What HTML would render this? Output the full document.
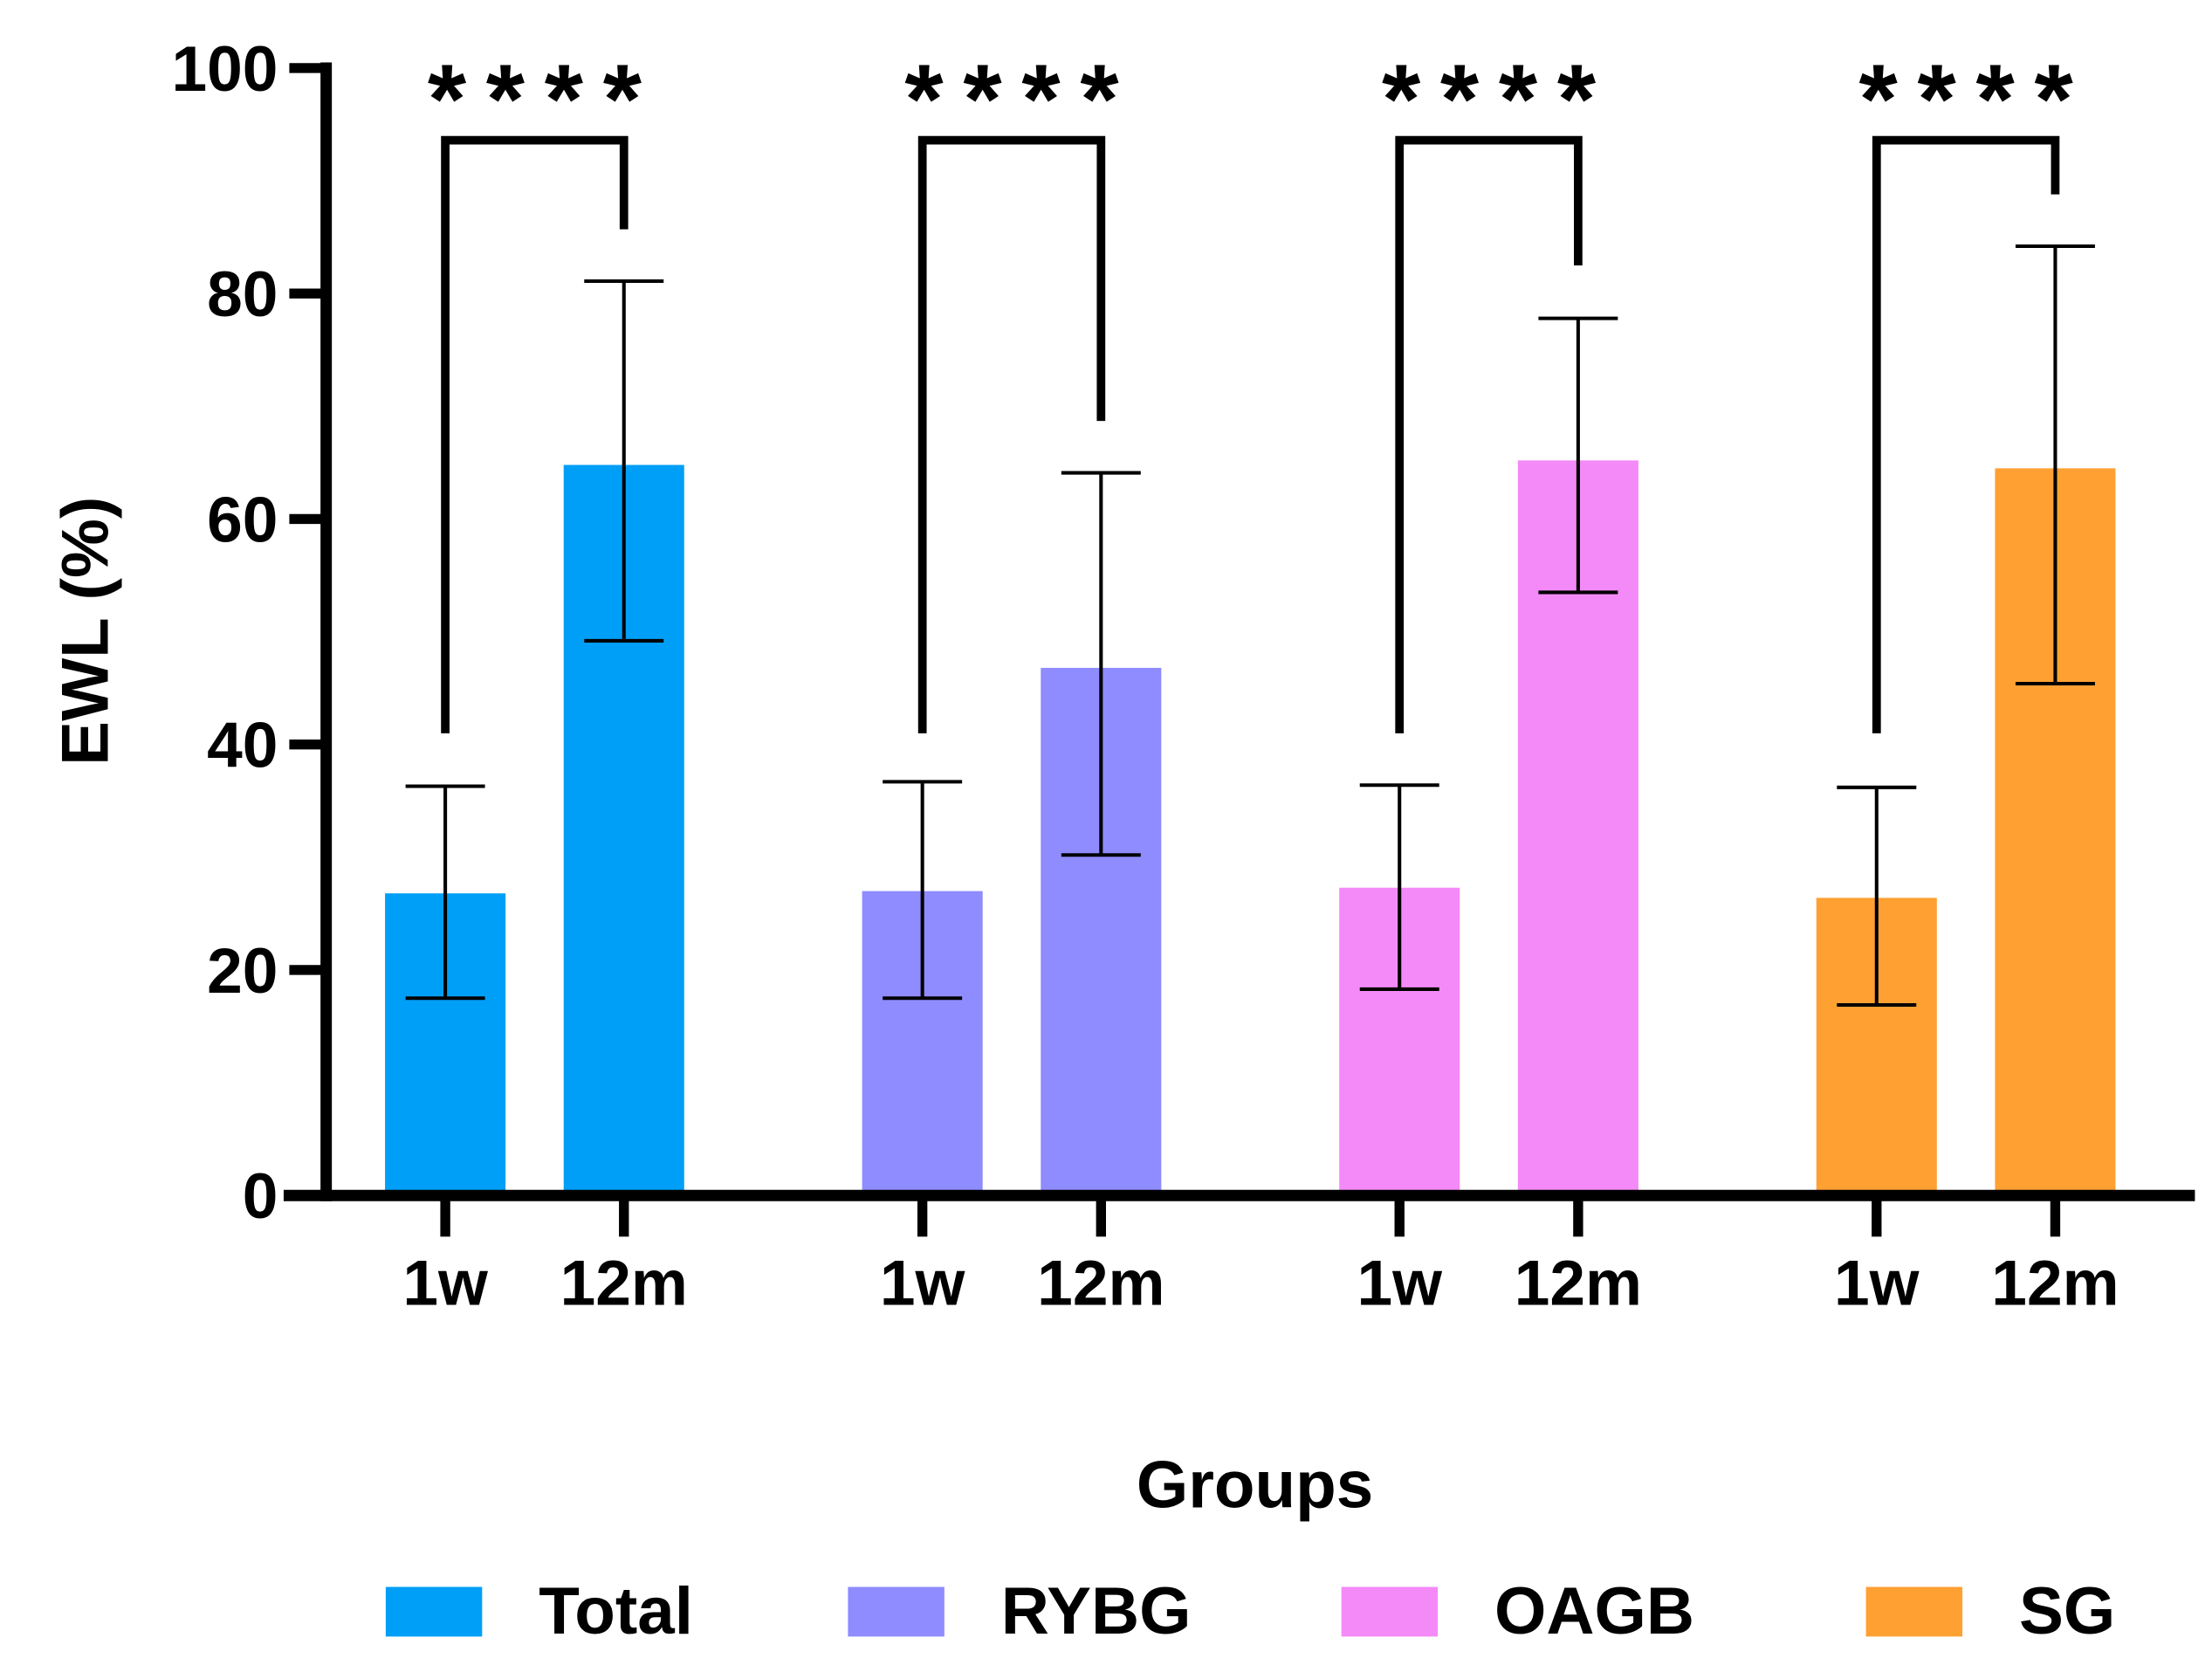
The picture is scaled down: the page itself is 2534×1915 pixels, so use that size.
<!DOCTYPE html>
<html><head><meta charset="utf-8"><style>html,body{margin:0;padding:0;background:#fff}svg{display:block}</style></head>
<body>
<svg id="chart" xmlns="http://www.w3.org/2000/svg" width="2534" height="1915" viewBox="0 0 1560 1179" font-family="Liberation Sans, Arial, sans-serif" font-weight="bold"></svg>
<script>
const groups = ["Total","RYBG","OAGB","SG"];
const colors = ["#009ff7","#8f8cff","#f48af7","#ffa033"];
const times = ["1w","12m"];
const means1w = [26.8, 27.0, 27.3, 26.4];
const means12m = [64.8, 46.8, 65.2, 64.5];
const lo1w = [17.5, 17.5, 18.3, 16.9];
const hi1w = [36.3, 36.7, 36.4, 36.2];
const lo12m = [49.2, 30.2, 53.5, 45.4];
const hi12m = [81.1, 64.1, 77.8, 84.2];
const bracketRight = [85.7, 68.7, 82.5, 88.8];
const bracketLeft = [41, 41, 41, 41];
const bracketTop = 93.6;
const sigLabel = "****";
const yTicks = [0,20,40,60,80,100];

const NS="http://www.w3.org/2000/svg";
const svg=document.getElementById('chart');
const y0=843, y100=48;
function Y(v){return y0-(y0-y100)*v/100;}
function X(g,t){return 314+g*336.5+t*126;}
function el(tag,attrs,parent){const e=document.createElementNS(NS,tag);for(const k in attrs)e.setAttribute(k,attrs[k]);(parent||svg).appendChild(e);return e;}
const barW=85;
for(let g=0;g<4;g++){
  const vals=[means1w[g],means12m[g]], los=[lo1w[g],lo12m[g]], his=[hi1w[g],hi12m[g]];
  for(let t=0;t<2;t++){
    const cx=X(g,t);
    const r=el('rect',{x:cx-barW/2,y:Y(vals[t]),width:barW,height:Y(0)-Y(vals[t]),fill:colors[g]});
    
    
    const e=el('path',{d:`M${cx},${Y(los[t])}V${Y(his[t])}M${cx-28},${Y(los[t])}H${cx+28}M${cx-28},${Y(his[t])}H${cx+28}`,stroke:'#000','stroke-width':2.5,fill:'none'});
    
    
    const tk=el('line',{x1:cx,x2:cx,y1:y0,y2:872,stroke:'#000','stroke-width':7});
    
    
    const tl=el('text',{x:cx,y:920,'font-size':45,'text-anchor':'middle'});
    tl.textContent=times[t];
    
    
  }
  const xl=X(g,0), xr=X(g,1);
  const b=el('path',{d:`M${xl},${Y(bracketLeft[g])}V${Y(bracketTop)}H${xr}V${Y(bracketRight[g])}`,stroke:'#000','stroke-width':6,fill:'none'});
  
  
  const s=el('text',{x:(xl+xr)/2+7,y:94,'font-size':70,'text-anchor':'middle','letter-spacing':14});
  s.textContent=sigLabel;
  
  
}
const ya=el('line',{x1:230,x2:230,y1:44,y2:847,stroke:'#000','stroke-width':8});


const xa=el('line',{x1:200,x2:1548,y1:843,y2:843,stroke:'#000','stroke-width':8});


for(const v of yTicks){
  const t=el('line',{x1:204,x2:230,y1:Y(v),y2:Y(v),stroke:'#000','stroke-width':7});
  
  
  const l=el('text',{x:196,y:Y(v)+16,'font-size':45,'text-anchor':'end'});
  l.textContent=v;
  
  
}
const yt=el('text',{x:0,y:0,'font-size':47,'text-anchor':'middle',transform:'translate(76,445) rotate(-90)'});
yt.textContent='EWL (%)';


const xt=el('text',{x:885,y:1063,'font-size':47,'text-anchor':'middle'});
xt.textContent='Groups';


const legX=[272,598,946,1316];
for(let g=0;g<4;g++){
  const sw=el('rect',{x:legX[g],y:1119,width:68,height:35,fill:colors[g]});
  
  
  const lt=el('text',{x:legX[g]+108,y:1152,'font-size':47});
  lt.textContent=groups[g];
  
  
}
</script>
</body></html>
